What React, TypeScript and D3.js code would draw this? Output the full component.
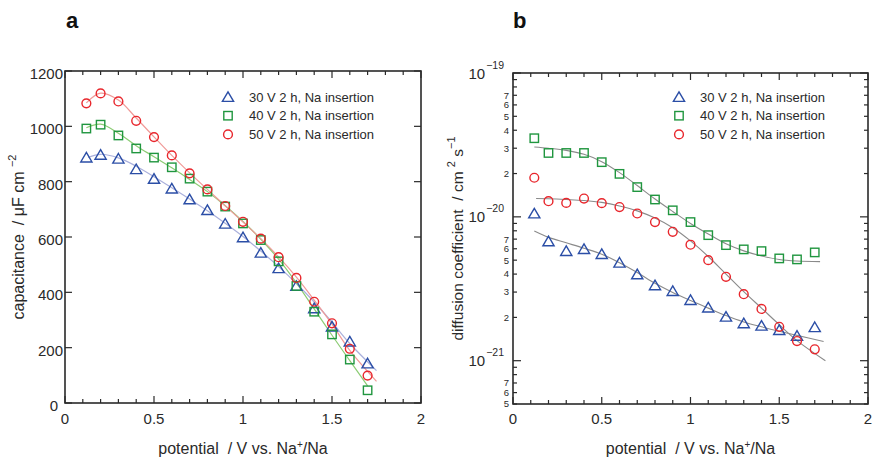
import React from 'react';
import * as d3 from 'd3';

// ---------- data ----------
const potentials = [0.12, 0.2, 0.3, 0.4, 0.5, 0.6, 0.7, 0.8, 0.9, 1.0, 1.1, 1.2, 1.3, 1.4, 1.5, 1.6, 1.7];
const seriesNames = ['30 V 2 h, Na insertion', '40 V 2 h, Na insertion', '50 V 2 h, Na insertion'];

const cap30 = [887, 897, 883, 845, 810, 775, 736, 697, 648, 599, 543, 487, 423, 342, 276, 222, 143];
const cap40 = [992, 1006, 967, 920, 887, 852, 811, 764, 710, 649, 589, 512, 423, 330, 248, 157, 46];
const cap50 = [1083, 1119, 1090, 1020, 961, 895, 830, 772, 712, 655, 594, 527, 452, 366, 288, 196, 99];

const capFit30X = [0.13, 0.2, 0.3, 0.4, 0.5, 0.6, 0.7, 0.8, 0.9, 1.0, 1.1, 1.2, 1.3, 1.4, 1.5, 1.6, 1.75];
const capFit30 = [888, 899, 886, 856, 818, 778, 737, 695, 650, 602, 549, 493, 432, 365, 292, 215, 117];
const capFit40X = [0.12, 0.2, 0.3, 0.4, 0.5, 0.6, 0.7, 0.8, 0.9, 1.0, 1.1, 1.2, 1.3, 1.4, 1.5, 1.6, 1.7];
const capFit40 = [995, 1008, 975, 930, 890, 850, 808, 764, 713, 656, 592, 520, 434, 340, 245, 153, 62];
const capFit50X = [0.12, 0.2, 0.3, 0.4, 0.5, 0.6, 0.7, 0.8, 0.9, 1.0, 1.1, 1.2, 1.3, 1.4, 1.5, 1.6, 1.75];
const capFit50 = [1085, 1120, 1095, 1030, 962, 895, 832, 772, 713, 654, 594, 528, 455, 372, 285, 190, 78];

const dif30 = [1.055e-20, 6.75e-21, 5.78e-21, 5.97e-21, 5.51e-21, 4.8e-21, 3.98e-21, 3.34e-21, 3.05e-21, 2.64e-21, 2.34e-21, 2.02e-21, 1.82e-21, 1.75e-21, 1.63e-21, 1.49e-21, 1.71e-21];
const dif40 = [3.52e-20, 2.78e-20, 2.78e-20, 2.78e-20, 2.4e-20, 1.99e-20, 1.61e-20, 1.32e-20, 1.11e-20, 9.2e-21, 7.46e-21, 6.36e-21, 5.94e-21, 5.78e-21, 5.14e-21, 5.06e-21, 5.66e-21];
const dif50 = [1.87e-20, 1.285e-20, 1.25e-20, 1.34e-20, 1.245e-20, 1.17e-20, 1.055e-20, 9.2e-21, 7.87e-21, 6.4e-21, 5.0e-21, 3.83e-21, 2.9e-21, 2.29e-21, 1.72e-21, 1.37e-21, 1.2e-21];

const difFit30X = [0.12, 0.2, 0.3, 0.4, 0.5, 0.6, 0.7, 0.8, 0.9, 1.0, 1.1, 1.2, 1.3, 1.4, 1.5, 1.6, 1.75];
const difFit30 = [7.96e-21, 7.2e-21, 6.6e-21, 6.05e-21, 5.5e-21, 4.8e-21, 4.1e-21, 3.45e-21, 2.98e-21, 2.62e-21, 2.32e-21, 2.06e-21, 1.86e-21, 1.72e-21, 1.6e-21, 1.5e-21, 1.36e-21];
const difFit40X = [0.12, 0.2, 0.3, 0.4, 0.5, 0.6, 0.7, 0.8, 0.9, 1.0, 1.1, 1.2, 1.3, 1.4, 1.5, 1.6, 1.73];
const difFit40 = [3.06e-20, 3.0e-20, 2.9e-20, 2.72e-20, 2.42e-20, 2.03e-20, 1.65e-20, 1.33e-20, 1.09e-20, 9.0e-21, 7.6e-21, 6.5e-21, 5.8e-21, 5.35e-21, 5.05e-21, 4.93e-21, 4.88e-21];
const difFit50X = [0.13, 0.2, 0.3, 0.4, 0.5, 0.6, 0.7, 0.8, 0.9, 1.0, 1.1, 1.2, 1.3, 1.4, 1.5, 1.6, 1.76];
const difFit50 = [1.34e-20, 1.335e-20, 1.32e-20, 1.3e-20, 1.26e-20, 1.19e-20, 1.1e-20, 9.8e-21, 8.4e-21, 6.8e-21, 5.3e-21, 4.0e-21, 3.02e-21, 2.32e-21, 1.78e-21, 1.38e-21, 1.0e-21];

const xTicks = [0, 0.5, 1, 1.5, 2];
const xMinorTicks = d3.range(0, 21).map((i) => i / 10);
const capTicks = [0, 200, 400, 600, 800, 1000, 1200];
const logMajor = [1e-21, 1e-20, 1e-19];
const logMajorExp = ['−21', '−20', '−19'];
const logMantissas = [2, 3, 4, 5, 6, 7, 8, 9];
const logLabeledMantissas = [2, 3, 4, 5, 6, 7];

// ---------- styles ----------
const FONT = 'Liberation Sans, Arial, Helvetica, sans-serif';
const AX = '#2a2a2a';
const TXT = '#2a2a2a';
const BLUE = '#2b4ea6';
const GREEN = '#20963f';
const RED = '#e8262c';
const FIT_BLUE = '#aab0dc';
const FIT_GREEN = '#8ccc74';
const FIT_RED = '#f09a98';
const GRAY = '#8a8a8a';

const colors = [BLUE, GREEN, RED];

function Marker({ kind, x, y }: { kind: number; x: number; y: number }) {
  const c = colors[kind];
  if (kind === 0) {
    return <path d="M0,-5.2 L5.6,4.4 L-5.6,4.4 Z" transform={`translate(${x},${y})`} fill="none" stroke={c} strokeWidth={1.4} />;
  }
  if (kind === 1) {
    return <rect x={x - 4.2} y={y - 4.2} width={8.4} height={8.4} fill="none" stroke={c} strokeWidth={1.4} />;
  }
  return <circle cx={x} cy={y} r={4.4} fill="none" stroke={c} strokeWidth={1.4} />;
}

function Legend({ x, y }: { x: number; y: number }) {
  return (
    <g>
      {seriesNames.map((n, i) => (
        <g key={n}>
          <Marker kind={i} x={x} y={y + i * 18.7} />
          <text x={x + 21} y={y + i * 18.7 + 4.6} fontSize={13} fill={TXT} fontFamily={FONT}>{n}</text>
        </g>
      ))}
    </g>
  );
}

export default function App() {
  // left panel
  const L = { x0: 65, x1: 421, y0: 71, y1: 403 };
  const xL = d3.scaleLinear().domain([0, 2]).range([L.x0, L.x1]);
  const yL = d3.scaleLinear().domain([0, 1200]).range([L.y1, L.y0]);

  // right panel
  const R = { x0: 513, x1: 868, y0: 73, y1: 404 };
  const xR = d3.scaleLinear().domain([0, 2]).range([R.x0, R.x1]);
  const yR = d3.scaleLog().domain([5e-22, 1e-19]).range([R.y1, R.y0]);

  const lineL = (xs: number[], ys: number[]) =>
    d3.line<number>().x((_, i) => xL(xs[i])).y((v) => yL(v)).curve(d3.curveCatmullRom.alpha(0.5))(ys) || '';
  const lineR = (xs: number[], ys: number[]) =>
    d3.line<number>().x((_, i) => xR(xs[i])).y((v) => yR(v)).curve(d3.curveCatmullRom.alpha(0.5))(ys) || '';

  const logTicks: number[] = [];
  const logLabels: { v: number; m: number }[] = [];
  [-22, -21, -20].forEach((e) => {
    logMantissas.forEach((m) => {
      const v = m * Math.pow(10, e);
      if (v >= 5e-22 * 0.999 && v <= 1e-19) {
        logTicks.push(v);
        if (logLabeledMantissas.includes(m)) logLabels.push({ v, m });
      }
    });
  });

  const xAxisTicks = (xs: d3.ScaleLinear<number, number>, top: number, bottom: number) => (
    <g stroke={AX} strokeWidth={1.2}>
      {xMinorTicks.map((t) => {
        const major = Math.abs(t * 2 - Math.round(t * 2)) < 1e-6;
        const len = major ? 7 : 4;
        return (
          <g key={t}>
            <line x1={xs(t)} x2={xs(t)} y1={bottom} y2={bottom - len} />
            <line x1={xs(t)} x2={xs(t)} y1={top} y2={top + len} />
          </g>
        );
      })}
    </g>
  );

  const pre = { whiteSpace: 'pre' as const };

  return (
    <svg width={874} height={461} style={{ position: 'absolute', left: 0, top: 0, background: '#fff' }} fontFamily={FONT}>
      <rect width={874} height={461} fill="#fff" />
      {/* panel labels */}
      <text x={66} y={28} fontSize={22} fontWeight="bold" fill="#111">a</text>
      <text x={513} y={28} fontSize={22} fontWeight="bold" fill="#111">b</text>

      {/* ================= LEFT ================= */}
      <g>
        <path d={lineL(capFit30X, capFit30)} fill="none" stroke={FIT_BLUE} strokeWidth={1.2} />
        <path d={lineL(capFit40X, capFit40)} fill="none" stroke={FIT_GREEN} strokeWidth={1.2} />
        <path d={lineL(capFit50X, capFit50)} fill="none" stroke={FIT_RED} strokeWidth={1.2} />
        {cap30.map((v, i) => <Marker key={'a' + i} kind={0} x={xL(potentials[i])} y={yL(v)} />)}
        {cap40.map((v, i) => <Marker key={'b' + i} kind={1} x={xL(potentials[i])} y={yL(v)} />)}
        {cap50.map((v, i) => <Marker key={'c' + i} kind={2} x={xL(potentials[i])} y={yL(v)} />)}

        <rect x={L.x0} y={L.y0} width={L.x1 - L.x0} height={L.y1 - L.y0} fill="none" stroke={AX} strokeWidth={1.6} />
        {xAxisTicks(xL, L.y0, L.y1)}
        <g stroke={AX} strokeWidth={1.2}>
          {capTicks.map((t) => (
            <g key={t}>
              <line x1={L.x0} x2={L.x0 + 7} y1={yL(t)} y2={yL(t)} />
              <line x1={L.x1} x2={L.x1 - 7} y1={yL(t)} y2={yL(t)} />
            </g>
          ))}
        </g>
        {capTicks.map((t) => (
          <text key={t} x={t === 0 ? L.x0 - 7 : L.x0 - 2} y={yL(t) + 8} textAnchor="end" fontSize={15} fill={TXT}>{t}</text>
        ))}
        {xTicks.map((t) => (
          <text key={t} x={xL(t)} y={424} textAnchor="middle" fontSize={15} fill={TXT}>{t}</text>
        ))}
        <text x={(L.x0 + L.x1) / 2} y={454} textAnchor="middle" fontSize={16} fill={TXT} style={pre}>
          {'potential  / V vs. Na'}<tspan dy={-6} fontSize={10}>+</tspan><tspan dy={6}>/Na</tspan>
        </text>
        <text transform={`translate(24,${(L.y0 + L.y1) / 2}) rotate(-90)`} textAnchor="middle" fontSize={16} fill={TXT} style={pre}>
          {'capacitance  / μF cm '}<tspan dy={-8} fontSize={11}>−2</tspan>
        </text>
        <Legend x={228} y={97} />
      </g>

      {/* ================= RIGHT ================= */}
      <g>
        <path d={lineR(difFit30X, difFit30)} fill="none" stroke={GRAY} strokeWidth={1.1} />
        <path d={lineR(difFit40X, difFit40)} fill="none" stroke={GRAY} strokeWidth={1.1} />
        <path d={lineR(difFit50X, difFit50)} fill="none" stroke={GRAY} strokeWidth={1.1} />
        {dif30.map((v, i) => <Marker key={'a' + i} kind={0} x={xR(potentials[i])} y={yR(v)} />)}
        {dif40.map((v, i) => <Marker key={'b' + i} kind={1} x={xR(potentials[i])} y={yR(v)} />)}
        {dif50.map((v, i) => <Marker key={'c' + i} kind={2} x={xR(potentials[i])} y={yR(v)} />)}

        <rect x={R.x0} y={R.y0} width={R.x1 - R.x0} height={R.y1 - R.y0} fill="none" stroke={AX} strokeWidth={1.6} />
        {xAxisTicks(xR, R.y0, R.y1)}
        <g stroke={AX} strokeWidth={1.2}>
          {logTicks.map((t) => (
            <g key={t}>
              <line x1={R.x0} x2={R.x0 + 4} y1={yR(t)} y2={yR(t)} />
              <line x1={R.x1} x2={R.x1 - 4} y1={yR(t)} y2={yR(t)} />
            </g>
          ))}
          {logMajor.map((t) => (
            <g key={t}>
              <line x1={R.x0} x2={R.x0 + 8} y1={yR(t)} y2={yR(t)} />
              <line x1={R.x1} x2={R.x1 - 8} y1={yR(t)} y2={yR(t)} />
            </g>
          ))}
        </g>
        {logLabels.map(({ v, m }) => (
          <text key={v} x={R.x0 - 4} y={yR(v) + 3.4} textAnchor="end" fontSize={9.5} fill={TXT}>{m}</text>
        ))}
        {logMajor.map((t, i) => (
          <text key={t} x={R.x0 - 9} y={yR(t) + 5.5} textAnchor="end" fontSize={15} fill={TXT}>
            10<tspan dx={1} dy={-10} fontSize={10.5}>{logMajorExp[i]}</tspan>
          </text>
        ))}
        {xTicks.map((t) => (
          <text key={t} x={xR(t)} y={424} textAnchor="middle" fontSize={15} fill={TXT}>{t}</text>
        ))}
        <text x={(R.x0 + R.x1) / 2} y={454} textAnchor="middle" fontSize={16} fill={TXT} style={pre}>
          {'potential  / V vs. Na'}<tspan dy={-6} fontSize={10}>+</tspan><tspan dy={6}>/Na</tspan>
        </text>
        <text transform={`translate(463,${(R.y0 + R.y1) / 2}) rotate(-90)`} textAnchor="middle" fontSize={15.5} fill={TXT} style={pre}>
          {'diffusion coefficient  / cm '}<tspan dy={-8} fontSize={11}>2</tspan><tspan dy={8}>{' s'}</tspan><tspan dy={-8} fontSize={11}>−1</tspan>
        </text>
        <Legend x={679} y={97} />
      </g>
    </svg>
  );
}
